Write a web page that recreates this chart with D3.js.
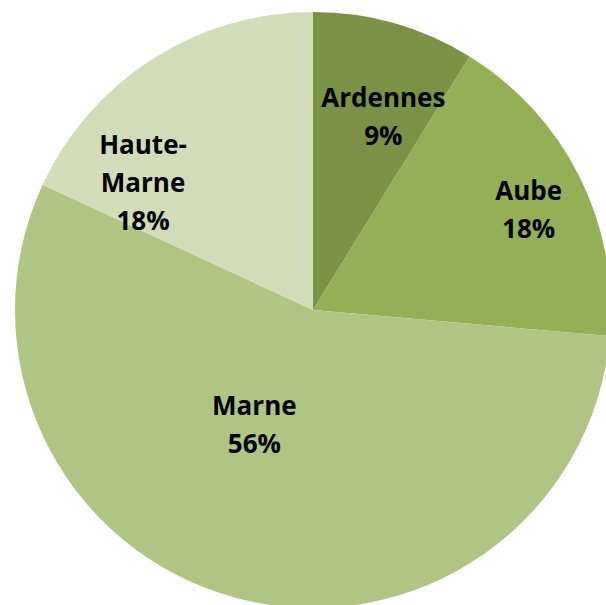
<!DOCTYPE html>
<html>
<head>
<meta charset="utf-8">
<script src="https://cdn.jsdelivr.net/npm/d3@7"></script>
<style>
  body { margin: 0; background: #fff; }
  svg { display: block; }
  .label { font-family: "Open Sans", sans-serif; font-weight: 700; font-size: 26px; fill: #000; }
</style>
</head>
<body>
<svg id="chart" width="606" height="605"></svg>
<script>
// departments, clockwise from 12 o'clock
const departments = ['Ardennes', 'Aube', 'Marne', 'Haute-Marne'];
const shares = [8.8, 17.6, 55.5, 18.1];
const labelLines = [['Ardennes'], ['Aube'], ['Marne'], ['Haute-', 'Marne']];

const COLORS = ['#7a9246', '#93b056', '#aec583', '#d0ddb8'];
// Excel "best fit" placement: angle shift (deg) and radius fraction per slice
const LABEL_FIT = [
  { shift: 4.8, r: 0.67 },
  { shift: 3, r: 0.79 },
  { shift: 11, r: 0.45 },
  { shift: -22, r: 0.70 },
];

const main = () => {
  const svg = d3.select('#chart');
  const cx = 313;
  const cy = 310;
  const R = 298;
  const lineH = 38;

  const data = departments.map((name, i) => ({ name, value: shares[i], lines: labelLines[i] }));
  const total = d3.sum(shares);
  const fmt = (v) => `${Math.round((v / total) * 100)}%`;

  const pie = d3.pie().sort(null).value((d) => d.value);
  const arc = d3.arc().innerRadius(0).outerRadius(R);
  const arcs = pie(data);

  const g = svg.append('g').attr('transform', `translate(${cx},${cy})`);

  g.selectAll('path')
    .data(arcs)
    .enter()
    .append('path')
    .attr('d', arc)
    .attr('fill', (d, i) => COLORS[i]);

  const labels = g.selectAll('text')
    .data(arcs)
    .enter()
    .append('text')
    .attr('class', 'label')
    .attr('text-anchor', 'middle')
    .attr('transform', (d, i) => {
      const fit = LABEL_FIT[i];
      const a = (d.startAngle + d.endAngle) / 2 + (fit.shift * Math.PI) / 180;
      const rr = fit.r * R;
      return `translate(${rr * Math.sin(a)},${-rr * Math.cos(a)})`;
    });

  labels.each(function (d) {
    const lines = d.data.lines.concat([fmt(d.data.value)]);
    const t = d3.select(this);
    const top = -((lines.length - 1) * lineH) / 2 + 3;
    lines.forEach((ln, k) => {
      t.append('tspan').attr('x', 0).attr('y', top + k * lineH).text(ln);
    });
  });
};
main();
</script>
</body>
</html>
